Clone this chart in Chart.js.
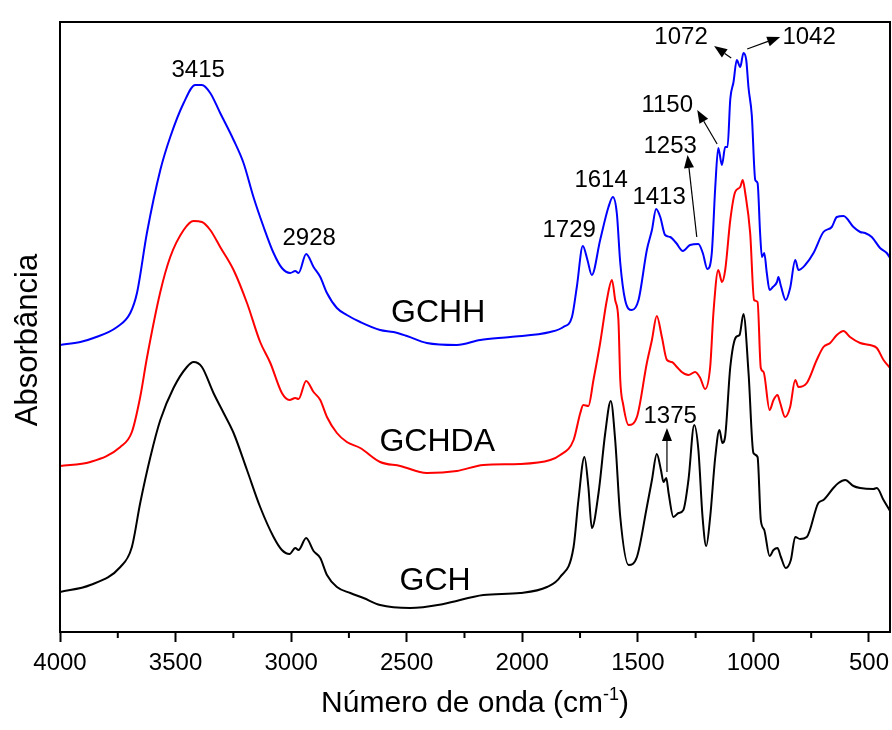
<!DOCTYPE html>
<html><head><meta charset="utf-8">
<script src="https://cdn.jsdelivr.net/npm/chart.js@4.4.1/dist/chart.umd.min.js"></script>
<style>html,body{margin:0;padding:0;background:#fff;}canvas{display:block;}</style>
</head><body>
<canvas id="c" width="892" height="730"></canvas>
<script>
// ---- Data (wavenumber in cm-1, absorbance in arbitrary offset units) ----
const gchhWavenumber = [4000,3912,3855,3753,3696,3667,3624,3566,3523,3465,3415,3386,3350,3307,3249,3206,3163,3119,3076,3040,3004,2982,2968,2935,2903,2874,2845,2802,2759,2701,2615,2557,2499,2413,2283,2182,2052,1879,1822,1785,1764,1738,1718,1699,1663,1627,1608,1591,1576,1555,1526,1497,1461,1439,1421,1403,1382,1360,1334,1305,1274,1238,1219,1199,1180,1165,1152,1136,1122,1112,1100,1086,1072,1057,1043,1031,1021,1007,992,982,971,963,953,942,930,916,898,892,881,860,841,819,805,776,740,697,661,639,610,567,538,517,488,452,423,409];
const gchhAbs = [2.87,2.90,2.94,3.05,3.19,3.39,3.99,4.62,4.95,5.29,5.47,5.47,5.39,5.19,4.92,4.69,4.35,4.05,3.79,3.64,3.59,3.61,3.59,3.78,3.65,3.55,3.39,3.24,3.17,3.10,3.02,3.00,2.96,2.89,2.87,2.92,2.95,3.00,3.05,3.15,3.45,3.86,3.72,3.57,3.92,4.25,4.35,4.19,3.69,3.32,3.22,3.32,3.82,4.02,4.23,4.15,3.97,3.95,3.89,3.81,3.87,3.88,3.79,3.63,3.79,4.45,4.84,4.67,4.85,4.85,5.33,5.50,5.72,5.65,5.79,5.72,5.44,5.17,4.52,4.49,3.99,3.75,3.79,3.59,3.42,3.45,3.50,3.55,3.46,3.32,3.44,3.72,3.62,3.67,3.79,4.00,4.05,4.15,4.16,4.05,4.00,3.99,3.95,3.84,3.79,3.74];

const gchdaWavenumber = [4000,3869,3739,3689,3653,3624,3566,3523,3465,3422,3386,3350,3307,3249,3191,3134,3090,3040,3007,2982,2968,2935,2903,2874,2845,2802,2759,2701,2615,2528,2413,2283,2168,2009,1879,1836,1778,1749,1736,1714,1692,1663,1634,1612,1598,1584,1576,1563,1540,1504,1461,1439,1418,1396,1374,1353,1331,1310,1281,1252,1230,1209,1187,1173,1152,1136,1122,1100,1079,1057,1046,1036,1014,997,982,968,956,930,913,896,884,863,841,819,805,769,726,697,668,639,610,582,538,495,466,437,409];
const gchdaAbs = [1.66,1.70,1.85,2.00,2.35,2.74,3.40,3.75,4.02,4.11,4.10,4.02,3.85,3.62,3.29,2.90,2.69,2.39,2.32,2.34,2.33,2.51,2.40,2.32,2.15,1.99,1.90,1.84,1.70,1.66,1.59,1.61,1.67,1.68,1.72,1.77,1.92,2.19,2.27,2.26,2.52,2.89,3.32,3.52,3.32,3.12,2.52,2.27,2.07,2.15,2.69,2.92,3.16,2.95,2.72,2.70,2.65,2.60,2.57,2.60,2.54,2.43,2.65,3.19,3.62,3.50,3.62,4.12,4.40,4.45,4.52,4.40,3.99,3.32,3.30,2.64,2.60,2.22,2.32,2.37,2.29,2.15,2.25,2.52,2.45,2.49,2.72,2.85,2.89,2.97,3.01,2.95,2.89,2.87,2.84,2.72,2.64];

const gchWavenumber = [4000,3869,3739,3689,3653,3609,3566,3509,3451,3422,3386,3336,3292,3249,3191,3134,3076,3040,3007,2982,2968,2935,2903,2874,2845,2802,2744,2687,2615,2485,2341,2168,2009,1893,1836,1778,1757,1731,1714,1699,1670,1641,1617,1598,1576,1540,1504,1461,1439,1418,1400,1389,1377,1367,1346,1324,1303,1281,1256,1238,1220,1204,1187,1165,1147,1134,1122,1100,1075,1060,1043,1021,1000,982,968,953,930,913,896,881,860,838,819,798,769,719,697,654,632,603,567,538,481,466,437,409];
const gchAbs = [0.40,0.47,0.65,0.85,1.29,1.75,2.12,2.44,2.65,2.70,2.65,2.39,2.19,1.99,1.62,1.25,0.95,0.82,0.78,0.84,0.82,0.94,0.81,0.74,0.57,0.45,0.39,0.34,0.27,0.24,0.28,0.37,0.39,0.45,0.55,0.85,1.32,1.75,1.45,1.04,1.39,1.99,2.31,1.92,1.15,0.67,0.75,1.25,1.52,1.78,1.62,1.50,1.54,1.39,1.15,1.19,1.22,1.52,2.07,1.82,1.15,0.86,1.15,1.75,2.02,1.89,1.96,2.65,2.95,2.97,3.18,2.59,1.79,1.75,1.12,1.02,0.76,0.82,0.84,0.75,0.64,0.72,0.95,0.93,0.95,1.29,1.32,1.44,1.49,1.52,1.46,1.44,1.43,1.44,1.32,1.21];

const majorTicks = [4000,3500,3000,2500,2000,1500,1000,500];
const minorTicks = [3750,3250,2750,2250,1750,1250,750];

const sampleNames = ['GCHH','GCHDA','GCH'];
const sampleLabelX = [2364,2368,2377];
const sampleLabelY = [3.22,1.93,0.54];

const peakLabels = ['3415','2928','1729','1614','1413','1253','1150','1072','1042','1375'];
const peakLabelX = [3402,2922,1797,1659,1408,1360,1373,1313,759,1360];
const peakLabelY = [5.64,3.96,4.04,4.54,4.37,4.88,5.29,5.97,5.97,2.18];

const arrowFromX = [1157,1245,1096,1027,1374];
const arrowFromY = [4.88,3.95,5.74,5.83,1.60];
const arrowToX   = [1243,1285,1170,884,1374];
const arrowToY   = [5.22,4.77,5.86,5.95,2.04];

// ---- helpers ----
const FONT = '"Liberation Sans", Arial, sans-serif';
function zip(xs, ys){ const n=Math.min(xs.length, ys.length); const o=[]; for(let i=0;i<n;i++) o.push({x:xs[i], y:ys[i]}); return o; }

function drawArrow(ctx, x1, y1, x2, y2){
  const ang = Math.atan2(y2-y1, x2-x1);
  const hl = 13, hw = 5;
  const bx = x2 - hl*Math.cos(ang), by = y2 - hl*Math.sin(ang);
  ctx.beginPath(); ctx.moveTo(x1,y1); ctx.lineTo(bx,by); ctx.stroke();
  ctx.beginPath();
  ctx.moveTo(x2,y2);
  ctx.lineTo(bx + hw*Math.sin(ang), by - hw*Math.cos(ang));
  ctx.lineTo(bx - hw*Math.sin(ang), by + hw*Math.cos(ang));
  ctx.closePath(); ctx.fill();
}

const decorPlugin = {
  id: 'decor',
  afterDraw(chart){
    const {ctx, chartArea:a, scales:{x, y}} = chart;
    ctx.save();
    ctx.strokeStyle = '#000'; ctx.fillStyle = '#000'; ctx.lineWidth = 2;
    ctx.beginPath();
    ctx.moveTo(a.left, a.bottom); ctx.lineTo(a.left, a.top);
    ctx.lineTo(a.right, a.top); ctx.lineTo(a.right, a.bottom);
    ctx.stroke();
    minorTicks.forEach(v => {
      const px = x.getPixelForValue(v);
      ctx.beginPath(); ctx.moveTo(px, a.bottom); ctx.lineTo(px, a.bottom + 6); ctx.stroke();
    });
    ctx.textAlign = 'center'; ctx.textBaseline = 'alphabetic';
    ctx.font = '24px ' + FONT;
    peakLabels.forEach((t, i) => {
      ctx.fillText(t, x.getPixelForValue(peakLabelX[i]), y.getPixelForValue(peakLabelY[i]) + 8.6);
    });
    ctx.font = '32px ' + FONT;
    sampleNames.forEach((t, i) => {
      ctx.fillText(t, x.getPixelForValue(sampleLabelX[i]), y.getPixelForValue(sampleLabelY[i]) + 11.5);
    });
    ctx.lineWidth = 1.2;
    arrowFromX.forEach((v, i) => {
      drawArrow(ctx, x.getPixelForValue(v), y.getPixelForValue(arrowFromY[i]),
                     x.getPixelForValue(arrowToX[i]), y.getPixelForValue(arrowToY[i]));
    });
    const cx = (a.left + a.right) / 2, base = 712;
    const s1 = 'Número de onda (cm', sup = '-1', s2 = ')';
    ctx.font = '30px ' + FONT; const w1 = ctx.measureText(s1).width, w3 = ctx.measureText(s2).width;
    ctx.font = '18px ' + FONT; const w2 = ctx.measureText(sup).width;
    let sx = cx - (w1 + w2 + w3) / 2;
    ctx.textAlign = 'left';
    ctx.font = '30px ' + FONT; ctx.fillText(s1, sx, base);
    ctx.font = '18px ' + FONT; ctx.fillText(sup, sx + w1, base - 12);
    ctx.font = '30px ' + FONT; ctx.fillText(s2, sx + w1 + w2, base);
    ctx.save();
    ctx.translate(37, 340); ctx.rotate(-Math.PI / 2);
    ctx.textAlign = 'center'; ctx.font = '31px ' + FONT;
    ctx.fillText('Absorbância', 0, 0);
    ctx.restore();
    ctx.restore();
  }
};

const lineDs = (label, xs, ys, color) => ({
  label, data: zip(xs, ys), borderColor: color, backgroundColor: color,
  borderWidth: 2, pointRadius: 0, fill: false, cubicInterpolationMode: 'monotone'
});

new Chart(document.getElementById('c'), {
  type: 'line',
  data: { datasets: [
    lineDs('GCHH', gchhWavenumber, gchhAbs, '#0000ff'),
    lineDs('GCHDA', gchdaWavenumber, gchdaAbs, '#ff0000'),
    lineDs('GCH', gchWavenumber, gchAbs, '#000000')
  ]},
  options: {
    responsive: false, animation: false, devicePixelRatio: 1,
    layout: { padding: { left: 60, top: 22, right: 2, bottom: 0 } },
    plugins: { legend: { display: false }, tooltip: { enabled: false } },
    scales: {
      x: {
        type: 'linear', reverse: true, min: 409, max: 4000,
        afterBuildTicks: (s) => { s.ticks = majorTicks.map(v => ({ value: v })); },
        afterFit: (s) => { s.height = 98; s.paddingLeft = 0; s.paddingRight = 0; },
        grid: { display: true, drawOnChartArea: false, drawTicks: true, tickLength: 10, tickWidth: 2, tickColor: '#000', color: '#000' },
        border: { display: true, color: '#000', width: 2 },
        ticks: { color: '#000', font: { family: FONT, size: 24 }, padding: 7, maxRotation: 0, autoSkip: false, callback: (v) => String(v) }
      },
      y: { display: false, min: 0, max: 6.1 }
    }
  },
  plugins: [decorPlugin]
});
</script>
</body></html>
